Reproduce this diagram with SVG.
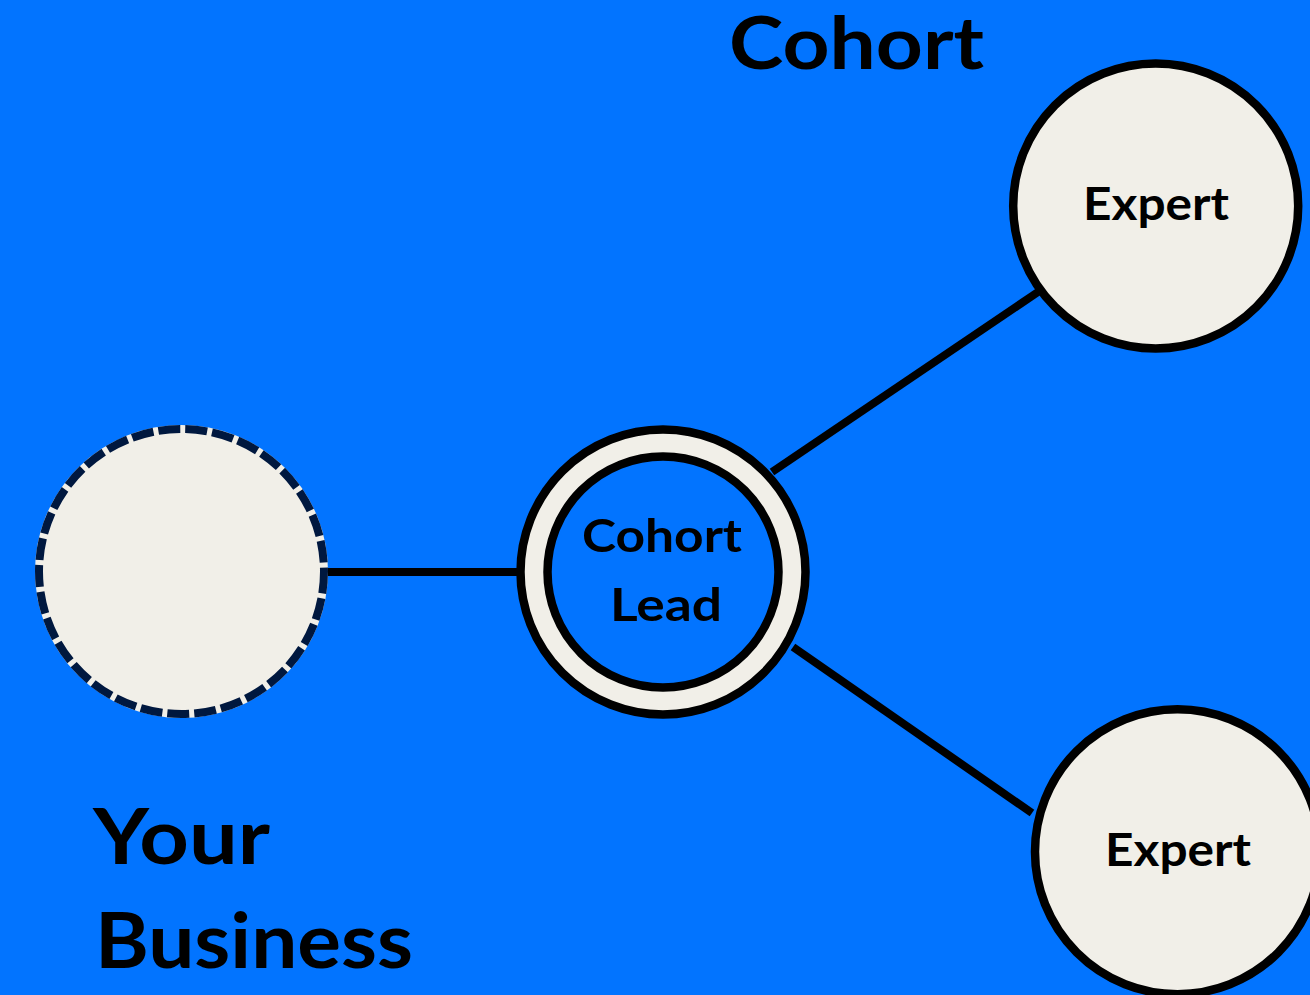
<svg xmlns="http://www.w3.org/2000/svg" width="1310" height="995" viewBox="0 0 1310 995">
  <style>
    .lbl { font-family: Lato, "Noto Sans", "Liberation Sans", sans-serif; font-weight: 700; fill: #000; text-anchor: middle; }
    .ttl { font-family: Lato, "Noto Sans", "Liberation Sans", sans-serif; font-weight: 700; fill: #000; }
    .node { fill: #F1EFE8; stroke: #000; stroke-width: 8.5; }
    .conn { stroke: #000; stroke-width: 8; fill: none; }
  </style>
  <rect x="0" y="0" width="1310" height="995" fill="#0274FF"/>
  <g id="connectors">
    <line class="conn" x1="326" y1="572" x2="520" y2="572"/>
    <line class="conn" x1="772" y1="472" x2="1038" y2="292"/>
    <line class="conn" x1="793" y1="647" x2="1032" y2="813"/>
  </g>
  <g id="your-business">
    <circle cx="181.5" cy="571.5" r="142.5" fill="#F1EFE8" stroke="#F1EFE8" stroke-width="8"/>
    <circle cx="181.5" cy="571.5" r="142.5" fill="none" stroke="#00183F" stroke-width="8" stroke-dasharray="22 5"/>
  </g>
  <g id="cohort-lead">
    <circle class="node" cx="663" cy="572" r="142.5" stroke-width="9"/>
    <circle cx="663" cy="572" r="115.5" fill="#0274FF" stroke="#000" stroke-width="8.5"/>
    <text class="lbl" x="662" y="552" font-size="46" textLength="160" lengthAdjust="spacingAndGlyphs">Cohort</text>
    <text class="lbl" x="666" y="621" font-size="46" textLength="112" lengthAdjust="spacingAndGlyphs">Lead</text>
  </g>
  <g id="expert-top">
    <circle class="node" cx="1155.7" cy="206" r="142.5"/>
    <text class="lbl" x="1156" y="220" font-size="46" textLength="146" lengthAdjust="spacingAndGlyphs">Expert</text>
  </g>
  <g id="expert-bottom">
    <circle class="node" cx="1177.5" cy="851.7" r="142.5"/>
    <text class="lbl" x="1178" y="866" font-size="46" textLength="146" lengthAdjust="spacingAndGlyphs">Expert</text>
  </g>
  <g id="title-cohort">
    <text class="ttl" x="729" y="69" font-size="72" textLength="255" lengthAdjust="spacingAndGlyphs">Cohort</text>
  </g>
  <g id="title-your-business">
    <text class="ttl" x="93" y="864" font-size="77" textLength="177" lengthAdjust="spacingAndGlyphs">Your</text>
    <text class="ttl" x="95" y="968" font-size="77" textLength="318" lengthAdjust="spacingAndGlyphs">Business</text>
  </g>
</svg>
